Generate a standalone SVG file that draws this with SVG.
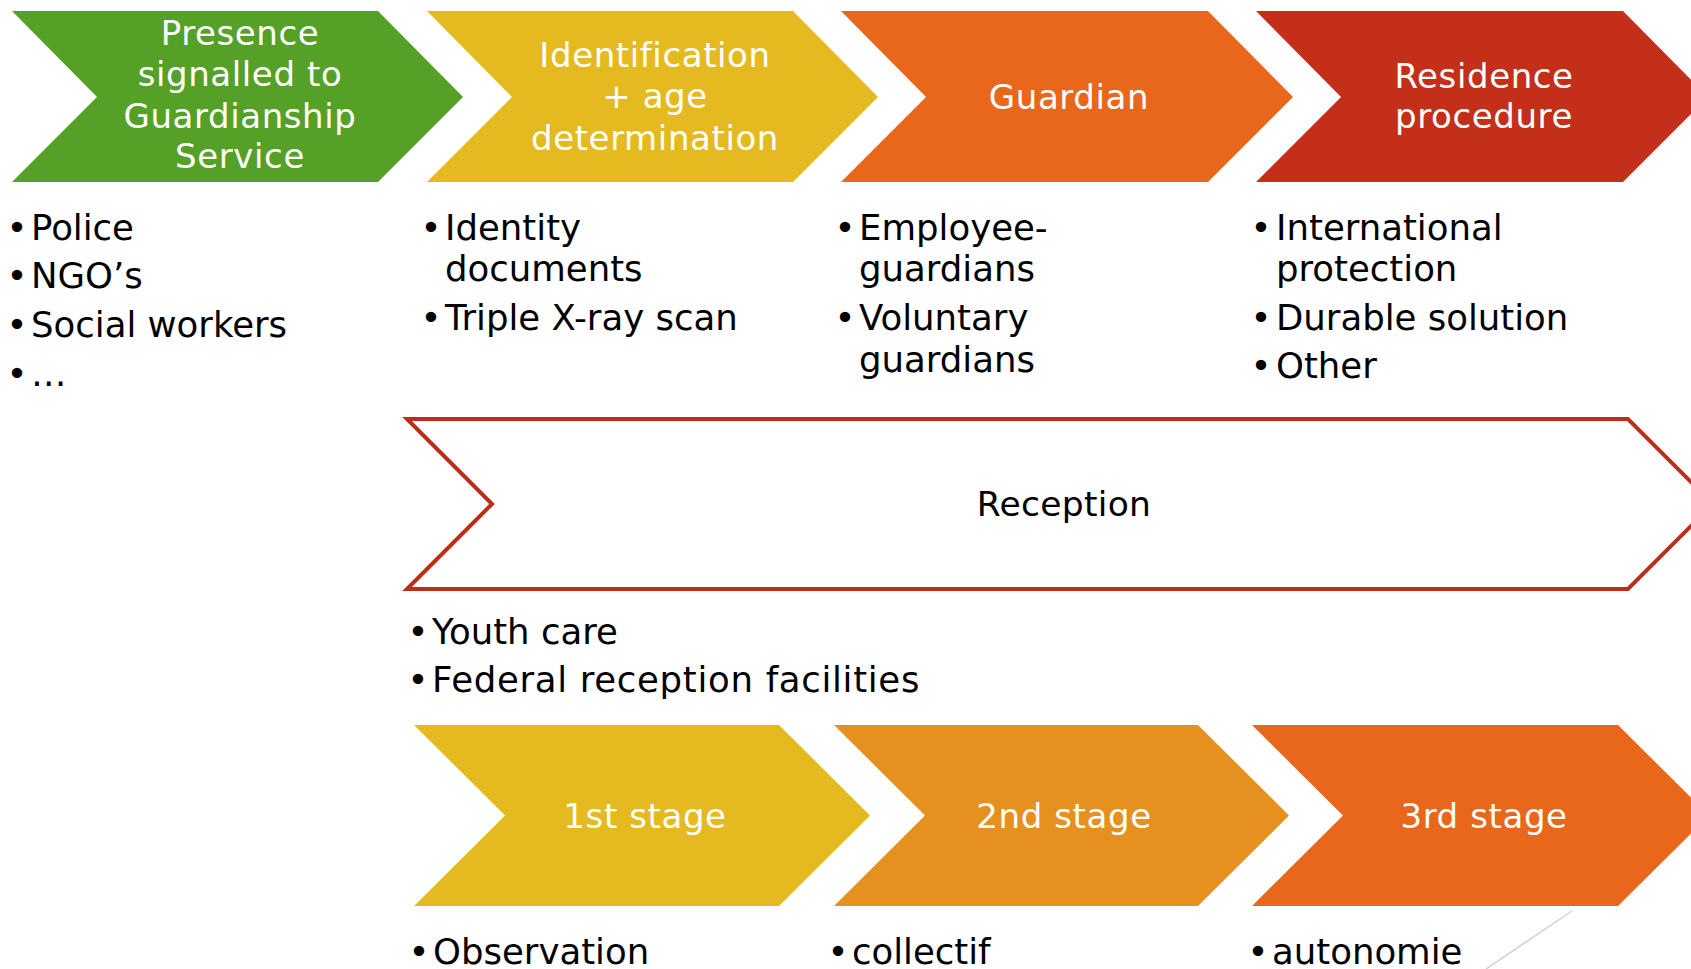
<svg xmlns="http://www.w3.org/2000/svg" width="1691" height="969" viewBox="0 0 1691 969">
<style>
.h{font-family:"DejaVu Sans",sans-serif;font-size:34px;fill:#fff;text-anchor:middle;letter-spacing:0.6px}
.b{font-family:"DejaVu Sans",sans-serif;font-size:35.5px;fill:#000}
.d{font-family:"DejaVu Sans",sans-serif;font-size:35.5px;fill:#000;text-anchor:middle}
.r{font-family:"DejaVu Sans",sans-serif;font-size:34.5px;fill:#000;text-anchor:middle;letter-spacing:0.3px}
</style>
<rect width="1691" height="969" fill="#fff"/>
<g id="presence">
<polygon points="12,11 378,11 463,97 378,182 12,182 97,97" fill="#55a127"/>
<text class="h" x="240" y="45">Presence</text>
<text class="h" x="240" y="86">signalled to</text>
<text class="h" x="240" y="128">Guardianship</text>
<text class="h" x="240" y="168">Service</text>
</g>
<g id="identification">
<polygon points="427,11 793,11 878,97 793,182 427,182 512,97" fill="#e5ba21"/>
<text class="h" x="655" y="67">Identification</text>
<text class="h" x="655" y="108">+ age</text>
<text class="h" x="655" y="150">determination</text>
</g>
<g id="guardian">
<polygon points="841,11 1208,11 1293,97 1208,182 841,182 926,97" fill="#e8671a"/>
<text class="h" x="1069" y="109">Guardian</text>
</g>
<g id="residence">
<polygon points="1256,11 1623,11 1708,97 1623,182 1256,182 1341,97" fill="#c42f1a"/>
<text class="h" x="1484" y="88">Residence</text>
<text class="h" x="1484" y="128">procedure</text>
</g>
<g id="list-presence">
<text class="d" x="17" y="240">•</text><text class="b" x="31" y="240">Police</text>
<text class="d" x="17" y="288">•</text><text class="b" x="31" y="288">NGO’s</text>
<text class="d" x="17" y="337">•</text><text class="b" x="31" y="337">Social workers</text>
<text class="d" x="17" y="386">•</text><text class="b" x="31" y="386">…</text>
</g>
<g id="list-identification">
<text class="d" x="431" y="240">•</text><text class="b" x="445" y="240">Identity</text>
<text class="b" x="445" y="281">documents</text>
<text class="d" x="431" y="330">•</text><text class="b" x="445" y="330">Triple X-ray scan</text>
</g>
<g id="list-guardian">
<text class="d" x="845" y="240">•</text><text class="b" x="859" y="240">Employee-</text>
<text class="b" x="859" y="281">guardians</text>
<text class="d" x="845" y="330">•</text><text class="b" x="859" y="330">Voluntary</text>
<text class="b" x="859" y="372">guardians</text>
</g>
<g id="list-residence">
<text class="d" x="1261" y="240">•</text><text class="b" x="1276" y="240">International</text>
<text class="b" x="1276" y="281">protection</text>
<text class="d" x="1261" y="330">•</text><text class="b" x="1276" y="330">Durable solution</text>
<text class="d" x="1261" y="378">•</text><text class="b" x="1276" y="378">Other</text>
</g>
<g id="reception">
<polygon points="407,419 1628,419 1713,504 1628,589 407,589 492,504" fill="#fff" stroke="#bb2e1c" stroke-width="4"/>
<text class="r" x="1064" y="516">Reception</text>
</g>
<g id="list-reception">
<text class="d" x="418" y="644">•</text><text class="b" x="432" y="644">Youth care</text>
<text class="d" x="418" y="692">•</text><text class="b" x="432" y="692" letter-spacing="0.7">Federal reception facilities</text>
</g>
<g id="stage1">
<polygon points="414,725 779,725 870,815.5 779,906 414,906 505,815.5" fill="#e5ba21"/>
<text class="h" x="645" y="828">1st stage</text>
</g>
<g id="stage2">
<polygon points="834,725 1198,725 1289,815.5 1198,906 834,906 925,815.5" fill="#e6911f"/>
<text class="h" x="1064" y="828">2nd stage</text>
</g>
<g id="stage3">
<polygon points="1252,725 1618,725 1709,815.5 1618,906 1252,906 1343,815.5" fill="#e8671a"/>
<text class="h" x="1484" y="828">3rd stage</text>
</g>
<g id="list-stages">
<text class="d" x="419" y="964">•</text><text class="b" x="433" y="964">Observation</text>
<text class="d" x="838" y="964">•</text><text class="b" x="852" y="964">collectif</text>
<text class="d" x="1258" y="964">•</text><text class="b" x="1272" y="964">autonomie</text>
</g>
<g id="connectors">
<line x1="1572" y1="911" x2="1486" y2="969" stroke="#d0d0d0" stroke-width="1.5"/>
</g>
</svg>
